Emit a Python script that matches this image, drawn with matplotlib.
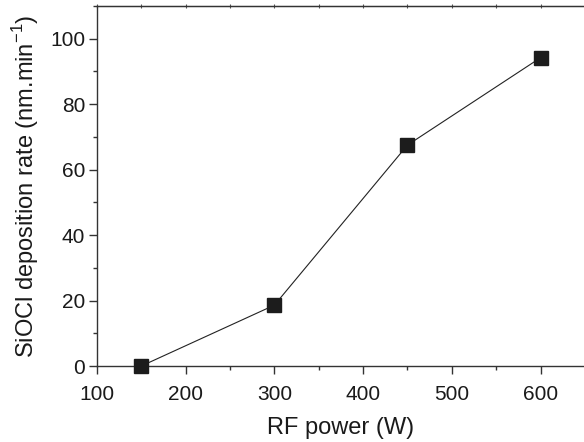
import matplotlib
matplotlib.use("Agg")
import matplotlib.pyplot as plt
from matplotlib.ticker import MultipleLocator

# data
rf_power = [150, 300, 450, 600]
dep_rate = [0.0, 18.6, 67.5, 94.2]

plt.rcParams["font.family"] = ["Liberation Sans", "DejaVu Sans"]

fig = plt.figure(figsize=(5.84, 4.42), dpi=100)
ax = fig.add_axes([97 / 584, 1 - 366 / 442, 1 - 97 / 584, 360 / 442])

ax.plot(rf_power, dep_rate, color="#222222", linewidth=0.8, marker="s",
        markersize=9.5, markerfacecolor="#1c1c1c", markeredgecolor="#1c1c1c",
        clip_on=False, zorder=3)

ax.set_xlim(100, 649)
ax.set_ylim(0, 110)
ax.xaxis.set_major_locator(MultipleLocator(100))
ax.xaxis.set_minor_locator(MultipleLocator(50))
ax.yaxis.set_major_locator(MultipleLocator(20))
ax.yaxis.set_minor_locator(MultipleLocator(10))

ax.spines["right"].set_visible(False)
for s in ("left", "bottom", "top"):
    ax.spines[s].set_color("#333333")
    ax.spines[s].set_linewidth(1.0)

ax.tick_params(which="major", direction="out", length=5.5, width=1.0,
               colors="#333333", labelsize=15, labelcolor="#1a1a1a")
ax.tick_params(which="minor", direction="out", length=2.8, width=1.0,
               colors="#333333")
ax.tick_params(axis="x", pad=8)
ax.tick_params(axis="y", pad=3)

# small marks along the top spine
top = ax.secondary_xaxis("top")
top.xaxis.set_major_locator(MultipleLocator(50))
top.tick_params(direction="inout", length=3, width=0.8, colors="#555555",
                labeltop=False)
top.spines["top"].set_color("#333333")

ax.set_xlabel("RF power (W)", fontsize=17, color="#1a1a1a")
ax.xaxis.set_label_coords(0.5, -0.142)
ax.set_ylabel(r"SiOCl deposition rate (nm.min$^{\mathregular{-1}}$)",
              fontsize=17, color="#1a1a1a")
ax.yaxis.set_label_coords(-0.116, 0.5)

fig.savefig("out.png", dpi=100)
